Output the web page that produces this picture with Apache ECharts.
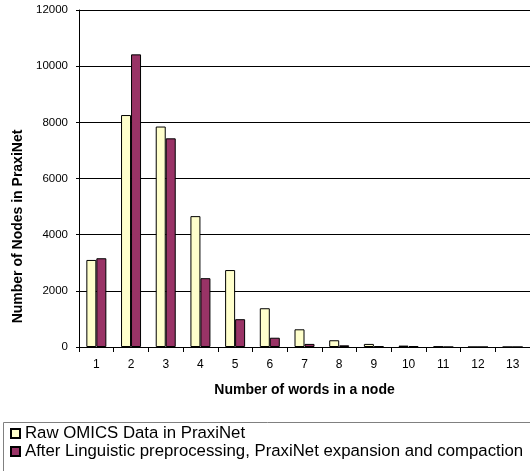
<!DOCTYPE html>
<html>
<head>
<meta charset="utf-8">
<script src="https://cdn.jsdelivr.net/npm/echarts@6/dist/echarts.min.js"></script>
<style>
  html, body { margin: 0; padding: 0; background: #fff; }
  #chart { width: 530px; height: 471px; }
</style>
</head>
<body>
<div id="chart"></div>
<script>
// number of words in a node
const categories = ['1', '2', '3', '4', '5', '6', '7', '8', '9', '10', '11', '12', '13'];
// Raw OMICS Data in PraxiNet
const rawData = [3100, 8260, 7850, 4660, 2740, 1380, 630, 240, 110, 50, 20, 0, 0];
// After Linguistic preprocessing, PraxiNet expansion and compaction
const processedData = [3160, 10420, 7430, 2450, 990, 330, 110, 60, 30, 30, 0, 0, 0];

const seriesNames = [
  'Raw OMICS Data in PraxiNet',
  'After Linguistic preprocessing, PraxiNet expansion and compaction'
];

const font = 'Arial, "Liberation Sans", sans-serif';
const chart = echarts.init(document.getElementById('chart'));

const option = {
  animation: false,
  textStyle: { fontFamily: font },
  grid: { left: 79, top: 10, right: 0, bottom: 124 },
  legend: {
    orient: 'vertical',
    left: 10,
    top: 425,
    icon: 'rect',
    itemWidth: 9,
    itemHeight: 9,
    itemGap: 1,
    padding: 0,
    textStyle: { fontSize: 16.8, color: '#000', fontFamily: font },
    data: seriesNames
  },
  graphic: [{
    type: 'rect',
    shape: { x: 3.5, y: 422.5, width: 540, height: 60 },
    style: { fill: 'none', stroke: '#808080', lineWidth: 1 },
    silent: true
  }],
  xAxis: {
    type: 'category',
    data: categories,
    name: 'Number of words in a node',
    nameLocation: 'middle',
    nameGap: 36,
    nameTextStyle: { fontSize: 14, fontWeight: 'bold', color: '#000' },
    axisLine: { lineStyle: { color: '#000' } },
    axisTick: { show: true, length: 5, alignWithLabel: false, lineStyle: { color: '#000' } },
    axisLabel: { fontSize: 12, color: '#000', margin: 12 }
  },
  yAxis: {
    type: 'value',
    min: 0,
    max: 12000,
    interval: 2000,
    name: 'Number of Nodes in PraxiNet',
    nameLocation: 'middle',
    nameGap: 52,
    nameTextStyle: { fontSize: 14, fontWeight: 'bold', color: '#000', padding: [0, 96, 0, 0] },
    axisLine: { show: true, lineStyle: { color: '#000' } },
    axisTick: { show: true, length: 3, lineStyle: { color: '#000' } },
    axisLabel: { fontSize: 11.5, color: '#000', margin: 11, formatter: v => String(v) },
    splitLine: { lineStyle: { color: '#000', width: 1 } }
  },
  series: [
    {
      name: seriesNames[0],
      type: 'bar',
      data: rawData,
      barWidth: 10,
      barGap: '0%',
      itemStyle: { color: '#FFFFCC', borderColor: '#000', borderWidth: 1 }
    },
    {
      name: seriesNames[1],
      type: 'bar',
      data: processedData,
      barWidth: 10,
      barGap: '0%',
      itemStyle: { color: '#993366', borderColor: '#000', borderWidth: 1 }
    }
  ]
};

chart.setOption(option);
</script>
</body>
</html>
